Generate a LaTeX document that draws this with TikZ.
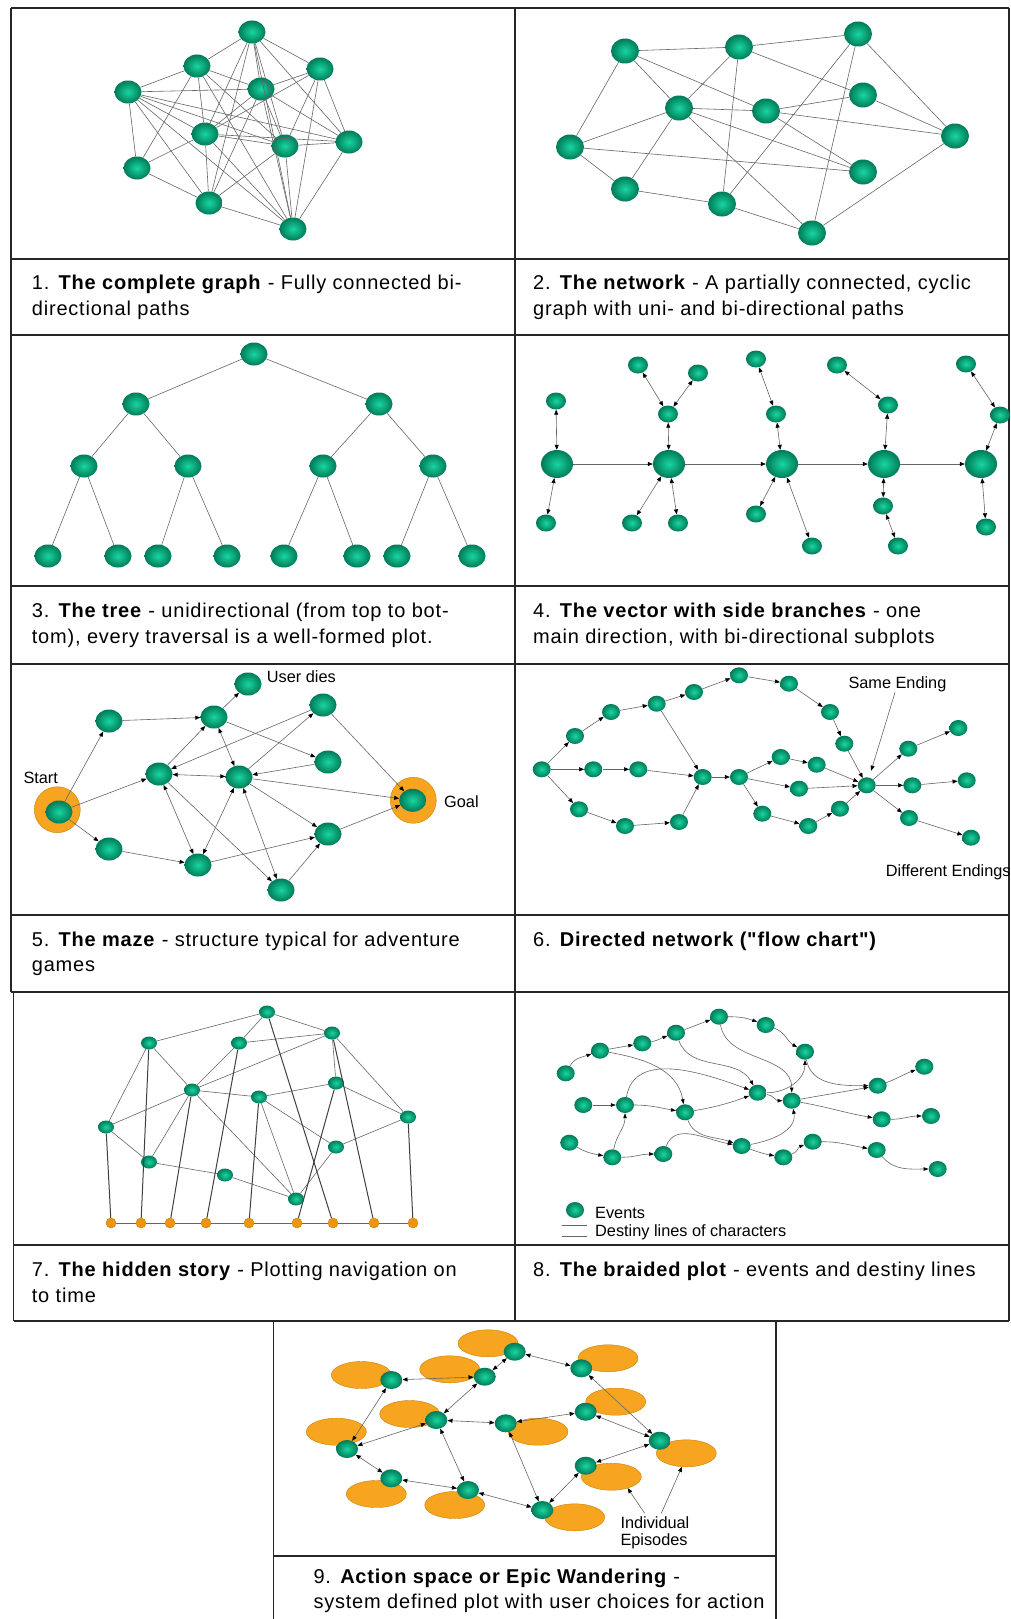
\documentclass[tikz,border=0pt]{standalone}
\usepackage{fontspec}
\setmainfont{Liberation Sans}
\newfontfamily\capfont{Liberation Sans}[LetterSpace=4.0]
\usepackage{tikz}
\usetikzlibrary{positioning,
                arrows.meta,
                shapes.geometric}
\definecolor{ballgreen}{HTML}{19D6A0}
\definecolor{balldark}{HTML}{007A58}
\definecolor{episodeorange}{HTML}{F7A520}
\definecolor{episodeedge}{HTML}{C88000}
\definecolor{timeorange}{HTML}{EE9410}
\definecolor{linkgray}{HTML}{666666}

\begin{document}
\begin{tikzpicture}[x=1pt,y=1pt]

%--------------------------------------------------
% STYLES
%--------------------------------------------------

\tikzset{
greenball/.style={
ellipse,
inner sep=0pt,
inner color=ballgreen,
outer color=balldark
},
plainball/.style={greenball,minimum width=27pt,minimum height=23pt},
netball/.style={greenball,minimum width=28pt,minimum height=25pt},
hubball/.style={greenball,minimum width=32pt,minimum height=28pt},
leafball/.style={greenball,minimum width=20pt,minimum height=17pt},
dotball/.style={greenball,minimum width=18pt,minimum height=16pt},
tinyball/.style={greenball,minimum width=16pt,minimum height=13pt},
epiball/.style={greenball,minimum width=22pt,minimum height=18pt},
goalring/.style={
circle,
minimum size=46pt,
inner sep=0pt,
fill=episodeorange,
draw=episodeedge,
line width=0.4pt
},
episode/.style={
ellipse,
minimum width=60pt,
minimum height=27pt,
inner sep=0pt,
fill=episodeorange,
draw=episodeedge,
line width=0.4pt
},
timedot/.style={
circle,
minimum size=10pt,
inner sep=0pt,
fill=timeorange,
draw=episodeedge,
line width=0.4pt
},
link/.style={draw=linkgray,line width=0.6pt},
timeline/.style={draw=black!75,line width=1pt},
arrowlink/.style={link,-{Triangle[length=5pt,width=4pt,color=black]}},
twoway/.style={link,{Triangle[length=5pt,width=4pt,color=black]}-{Triangle[length=5pt,width=4pt,color=black]}},
braid/.style={link,-{Triangle[length=5pt,width=3.5pt,color=black]}},
gridline/.style={line width=1.1pt,draw=black!85},
captiontext/.style={anchor=base west,inner sep=0pt,font=\capfont\fontsize{20}{24}\selectfont},
tag/.style={anchor=base west,inner sep=0pt,font=\fontsize{16.3}{19}\selectfont}
}

\fill[white] (0,0) rectangle (1010,-1619);
\useasboundingbox (0,0) rectangle (1010,-1619);

%--------------------------------------------------
% FRAME
%--------------------------------------------------

\foreach \y in {8,259,335,586,664,915,992}
{
\draw[gridline] (11,-\y)--(1009,-\y);
}
\draw[gridline] (13.5,-1245)--(1009,-1245);
\draw[gridline] (13.5,-1321)--(1009,-1321);
\draw[gridline] (273.5,-1556)--(776,-1556);

\draw[gridline] (11,-8)--(11,-992);
\draw[gridline] (13.5,-992)--(13.5,-1321);
\draw[gridline] (515,-8)--(515,-1321);
\draw[gridline] (1009,-8)--(1009,-1321);
\draw[gridline] (273.5,-1321)--(273.5,-1619);
\draw[gridline] (776,-1321)--(776,-1619);

%--------------------------------------------------
% 1. COMPLETE GRAPH
%--------------------------------------------------

\foreach \n/\x/\y in {a/252/32,b/197/66,c/320/69,d/128/92,e/261/89,f/205/134,
                      g/285/146,h/349/142,i/137/168,j/209/203,k/293/229}
{
\node[plainball] (cg\n) at (\x,-\y) {};
}

\foreach \a/\b in {a/b,a/c,a/e,a/f,a/j,a/g,a/k,a/h,
                   b/d,b/e,b/f,b/i,b/g,b/k,
                   c/e,c/f,c/h,c/k,c/g,
                   d/e,d/f,d/g,d/h,d/i,d/j,d/k,
                   e/f,e/g,e/h,e/k,e/j,
                   f/g,f/h,f/i,f/j,f/k,
                   g/h,g/j,g/k,h/k,i/j,j/k}
{
\draw[link] (cg\a)--(cg\b);
}

%--------------------------------------------------
% 2. NETWORK
%--------------------------------------------------

\foreach \n/\x/\y in {a/625/51,b/739/47,c/858/34,d/863/95,e/679/108,f/766/111,
                      g/955/136,h/570/147,i/863/172,j/625/189,k/722/204,l/812/233}
{
\node[netball] (nw\n) at (\x,-\y) {};
}

\foreach \a/\b in {a/b,b/c,a/h,a/e,a/f,b/e,b/k,b/d,c/k,c/l,c/g,
                   d/f,d/g,e/h,e/f,e/j,e/i,e/l,f/g,f/i,
                   h/i,h/j,j/k,k/l,l/g}
{
\draw[link] (nw\a)--(nw\b);
}

%--------------------------------------------------
% 3. TREE
%--------------------------------------------------

\foreach \n/\x/\y in {0/254/354,1/136/404,2/379/404,
                      3/84/466,4/188/466,5/323/466,6/433/466,
                      7/48/556,8/118/556,9/158/556,10/227/556,
                      11/284/556,12/357/556,13/397/556,14/472/556}
{
\node[plainball] (tr\n) at (\x,-\y) {};
}

\foreach \a/\b in {0/1,0/2,1/3,1/4,2/5,2/6,3/7,3/8,4/9,4/10,5/11,5/12,6/13,6/14}
{
\draw[link] (tr\a)--(tr\b);
}

%--------------------------------------------------
% 4. VECTOR WITH SIDE BRANCHES
%--------------------------------------------------

\foreach \n/\x in {1/557,2/669,3/782,4/884,5/981}
{
\node[hubball] (vh\n) at (\x,-464) {};
}

\foreach \n/\x/\y in {1/556/401,2/546/523,
                      3/668/414,4/638/365,5/698/373,6/632/523,7/678/523,
                      8/776/414,9/756/359,10/756/514,11/812/546,
                      12/888/405,13/837/365,14/883/506,15/898/546,
                      16/1000/415,17/966/364,18/986/527}
{
\node[leafball] (vl\n) at (\x,-\y) {};
}

\foreach \a/\b in {1/2,2/3,3/4,4/5}
{
\draw[arrowlink] (vh\a)--(vh\b);
}

\foreach \a/\b in {h1/l1,h1/l2,h2/l3,l3/l4,l3/l5,h2/l6,h2/l7,
                   h3/l8,l8/l9,h3/l10,h3/l11,
                   h4/l12,l12/l13,h4/l14,l14/l15,
                   h5/l16,l16/l17,h5/l18}
{
\draw[twoway] (v\a)--(v\b);
}

%--------------------------------------------------
% 5. MAZE
%--------------------------------------------------

\node[goalring] (startring) at (57.3,-809.7) {};
\node[goalring] (goalring) at (413.3,-800.3) {};

\node[plainball] (mzstart) at (59,-812) {};
\node[plainball] (mzgoal) at (412.7,-800.3) {};

\foreach \n/\x/\y in {1/109/721,2/214/717,3/248/684,4/323/705,5/159/774,
                      6/239/777,7/328/762,8/109/849,9/198/865,10/328/834,
                      11/281/890}
{
\node[plainball] (mz\n) at (\x,-\y) {};
}

\foreach \a/\b in {start/1,start/5,start/8,1/2,2/3,2/7,5/2,6/4,4/5,4/goal,
                   7/6,6/goal,8/9,9/10,11/10,5/11,6/10,10/goal}
{
\draw[arrowlink] (mz\a)--(mz\b);
}

\foreach \a/\b in {2/6,5/6,5/9,9/6,6/11}
{
\draw[twoway] (mz\a)--(mz\b);
}

\node[tag] (userdies) at (266.7,-682.7) {User dies};
\node[tag] (startlbl) at (23.3,-783.7) {Start};
\node[tag] (goallbl) at (444,-807.7) {Goal};

%--------------------------------------------------
% 6. FLOW CHART
%--------------------------------------------------

\foreach \n/\x/\y in {0/541.7/769.3,
                      1/575/736,2/611/712,3/656.7/703.7,4/694/692,
                      5/739/675.3,6/789/683.7,7/830/712,8/844.3/743.7,
                      9/593.3/769.3,10/638.3/769.3,
                      11/579/809.3,12/625/826,13/679/822,
                      14/702.7/777,15/739/777,
                      16/780.7/757,17/816.7/764.7,18/799/788.7,
                      19/762.3/813.7,20/808.3/826,21/840/808.7,
                      22/866.7/785.3,
                      23/908.3/748.7,24/958.3/728,25/912.3/785.3,
                      26/966.7/780.3,27/909/818,28/971/837.7}
{
\node[dotball] (fl\n) at (\x,-\y) {};
}

\foreach \a/\b in {0/1,1/2,2/3,3/4,4/5,5/6,6/7,7/8,8/22,3/14,
                   0/9,9/10,10/14,0/11,11/12,12/13,13/14,14/15,
                   15/16,16/17,17/22,15/18,18/22,15/19,19/20,20/21,21/22,
                   22/23,23/24,22/25,25/26,22/27,27/28}
{
\draw[arrowlink] (fl\a)--(fl\b);
}

\node[tag] (samelbl) at (848.3,-688.7) {Same Ending};
\node[tag] (difflbl) at (885.7,-876.3) {Different Endings};

\draw[arrowlink,shorten >=7pt] (samelbl)--(fl22);

%--------------------------------------------------
% 7. HIDDEN STORY
%--------------------------------------------------

\foreach \n/\x/\y in {1/267/1012,2/149/1043,3/239/1043,4/332/1033,5/192/1090,
                      6/259/1097,7/336/1083,8/106/1127,9/408/1117,
                      10/149/1162,11/336/1147,12/225/1175,13/296/1199}
{
\node[tinyball] (hs\n) at (\x,-\y) {};
}

\foreach \n/\x in {1/111,2/141,3/170,4/206,5/249,6/297,7/333,8/374,9/413}
{
\node[timedot] (tm\n) at (\x,-1223) {};
}

\foreach \a/\b in {1/2,1/3,1/4,2/8,2/5,3/4,3/5,4/5,4/9,4/7,5/8,5/6,5/10,5/13,
                   6/7,6/11,6/13,7/9,8/10,9/11,10/12,12/13,11/13}
{
\draw[link] (hs\a)--(hs\b);
}

\foreach \a/\b in {1/2,2/3,3/4,4/5,5/6,6/7,7/8,8/9}
{
\draw[link] (tm\a)--(tm\b);
}

\foreach \a/\b in {8/1,2/2,5/3,3/4,6/5,7/6,1/7,4/8,9/9}
{
\draw[timeline] (hs\a)--(tm\b);
}

%--------------------------------------------------
% 8. BRAIDED PLOT
%--------------------------------------------------

\foreach \n/\x/\y in {1/565.7/1073.3,2/600/1050.7,3/642.3/1043.3,4/676/1032.7,
                      5/719/1016.7,6/765.7/1025,7/805/1051.7,8/924.3/1066.7,
                      9/877.7/1085.7,10/583.3/1105,11/625/1105,12/685/1112.3,
                      13/757.7/1092.7,14/791.7/1100.7,15/881.7/1119.3,16/931/1116,
                      17/569.3/1142.7,18/612.3/1157.3,19/663.3/1154,20/741.7/1146,
                      21/783.3/1157.3,22/812.7/1141.7,23/876.7/1150,24/937.7/1169}
{
\node[dotball] (br\n) at (\x,-\y) {};
}

\foreach \a/\b/\o/\i in {1/2/60/200,2/3/10/190,3/4/10/200,4/5/20/200,
                         5/6/0/160,6/7/-20/150,7/9/-80/180,9/8/20/200,
                         5/14/-80/90,4/13/-70/120,2/12/-10/100,11/13/80/160,
                         13/7/0/-90,13/14/-10/180,14/9/10/190,14/15/-10/170,
                         15/16/0/180,10/11/0/180,11/12/0/170,12/13/10/200,
                         12/20/-70/160,17/18/-30/170,18/11/80/-90,18/19/0/180,
                         19/20/70/170,20/14/10/-80,20/21/-20/170,21/22/20/200,
                         22/23/0/170,23/24/-50/180}
{
\draw[braid] (br\a) to[out=\o,in=\i] (br\b);
}

% legend
\node[dotball] (evkey) at (575,-1210) {};
\node[tag] (evlbl) at (595,-1218) {Events};
\draw[link] (561.7,-1225.7)--(586.7,-1225.7);
\draw[link] (561.7,-1236.7)--(586.7,-1236.7);
\node[tag] (dllbl) at (595,-1236.7) {Destiny lines of characters};

%--------------------------------------------------
% 9. ACTION SPACE
%--------------------------------------------------

\foreach \n/\x/\y in {1/361.3/1375,2/449.7/1369.3,3/488/1343.3,4/608/1358.3,
                      5/409.7/1414,6/336.3/1431.7,7/615.7/1401.7,8/538/1431.7,
                      9/686.3/1453.3,10/376.3/1494,11/454.7/1505,12/611.3/1476.7,
                      13/574.7/1517.3}
{
\node[episode] (ep\n) at (\x,-\y) {};
}

\foreach \n/\x/\y in {1/391.3/1380,2/484.7/1376.7,3/514.7/1351.7,4/581.3/1368.3,
                      5/436.3/1420,6/505.7/1423.3,7/585.7/1411.7,8/347/1449,
                      9/659.7/1440.7,10/391.3/1478.3,11/468/1490,12/585.7/1465.7,
                      13/542.3/1510}
{
\node[epiball] (ac\n) at (\x,-\y) {};
}

\foreach \a/\b in {1/2,1/8,2/3,3/4,4/9,2/5,5/6,6/7,7/9,5/8,8/10,10/11,
                   5/11,11/13,6/13,13/12,12/9}
{
\draw[twoway] (ac\a)--(ac\b);
}

\node[tag] (indlbl) at (620.3,-1528.3) {Individual};
\node[tag] (epilbl) at (620.3,-1545) {Episodes};

\coordinate (epia) at (644.7,-1513.3);
\coordinate (epib) at (661.3,-1513.3);
\draw[arrowlink] (epia)--(ep12.-35);
\draw[arrowlink] (epib)--(ep9.-108);

%--------------------------------------------------
% CAPTIONS
%--------------------------------------------------

\node[captiontext] (cap1a) at (31.7,-289.3) {1. \textbf{The complete graph} - Fully connected bi-};
\node[captiontext] (cap1b) at (31.7,-315) {directional paths};

\node[captiontext] (cap2a) at (533,-289.3) {2. \textbf{The network} - A partially connected, cyclic};
\node[captiontext] (cap2b) at (533,-315) {graph with uni- and bi-directional paths};

\node[captiontext] (cap3a) at (31.7,-617) {3. \textbf{The tree} - unidirectional (from top to bot-};
\node[captiontext] (cap3b) at (31.7,-643) {tom), every traversal is a well-formed plot.};

\node[captiontext] (cap4a) at (533,-617) {4. \textbf{The vector with side branches} - one};
\node[captiontext] (cap4b) at (533,-643) {main direction, with bi-directional subplots};

\node[captiontext] (cap5a) at (31.7,-946) {5. \textbf{The maze} - structure typical for adventure};
\node[captiontext] (cap5b) at (31.7,-971.5) {games};

\node[captiontext] (cap6a) at (533,-946) {6. \textbf{Directed network ("flow chart")}};

\node[captiontext] (cap7a) at (31.7,-1276.7) {7. \textbf{The hidden story} - Plotting navigation on};
\node[captiontext] (cap7b) at (31.7,-1302.5) {to time};

\node[captiontext] (cap8a) at (533,-1276.7) {8. \textbf{The braided plot} - events and destiny lines};

\node[captiontext] (cap9a) at (313.3,-1583) {9. \textbf{Action space or Epic Wandering} -};
\node[captiontext] (cap9b) at (313.3,-1608) {system defined plot with user choices for action};

\end{tikzpicture}
\end{document}
